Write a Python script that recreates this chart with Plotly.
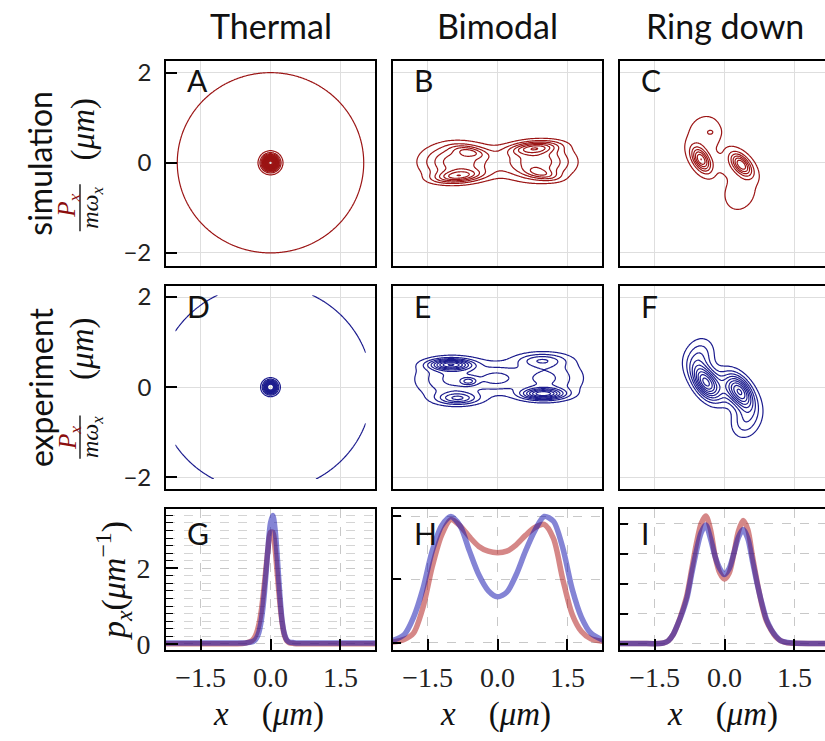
import numpy as np
import plotly.graph_objects as go

W, H = 825, 741

# ------------------------------------------------------------------ data
COLUMN_TITLES = ["Thermal", "Bimodal", "Ring down"]
ROW_NAMES = ["simulation", "experiment"]
PANEL_LETTERS = ["A", "B", "C", "D", "E", "F", "G", "H", "I"]

# Phase-space densities, each a sum of elliptical Gaussian components:
# (x0, y0, sigma_u, sigma_v, tilt_deg, weight)
THERMAL_SIM = [(0.0, 0.0, 0.10, 0.10, 0, 1.0),
               (0.0, 0.0, 1.20, 1.20, 0, 0.03)]
THERMAL_EXP = [(0.0, 0.0, 0.085, 0.085, 0, 1.0),
               (-0.12, -0.02, 1.20, 1.20, 0, 0.03)]
BIMODAL_SIM = [(-0.85, 0.02, 0.52, 0.28, 0, 0.50),
               (0.85, 0.02, 0.52, 0.28, 0, 0.50),
               (-0.85, -0.30, 0.35, 0.09, 5, 0.45),
               (0.80, 0.33, 0.35, 0.09, 5, 0.45),
               (-0.60, 0.25, 0.25, 0.08, -10, 0.25),
               (0.95, -0.25, 0.25, 0.08, -10, 0.25)]
BIMODAL_EXP = [(-0.95, 0.18, 0.52, 0.30, 0, 0.35),
               (1.02, 0.20, 0.52, 0.30, 0, 0.35),
               (-1.00, 0.50, 0.30, 0.08, 0, 0.80),
               (-0.85, -0.25, 0.30, 0.09, 0, 0.45),
               (-0.62, 0.13, 0.12, 0.06, 0, 0.30),
               (0.98, -0.15, 0.30, 0.08, 0, 0.80),
               (0.95, 0.60, 0.35, 0.10, 0, 0.30),
               (0.0, 0.20, 0.30, 0.20, 0, 0.25)]
RINGDOWN_SIM = [(-0.50, 0.07, 0.20, 0.11, -60, 1.0),
                (0.36, -0.04, 0.20, 0.11, -50, 1.0),
                (-0.42, 0.64, 0.24, 0.28, -20, 0.16),
                (-0.28, 0.68, 0.09, 0.07, 0, 0.10),
                (0.33, -0.65, 0.22, 0.28, -20, 0.16),
                (-0.05, -0.05, 0.25, 0.12, -45, 0.10)]
RINGDOWN_EXP = [(-0.41, 0.11, 0.28, 0.15, -60, 0.70),
                (0.34, -0.11, 0.28, 0.15, -60, 0.65),
                (-0.54, 0.70, 0.20, 0.26, -20, 0.24),
                (0.46, -0.74, 0.20, 0.26, -20, 0.24),
                (0.0, 0.0, 0.40, 0.22, -30, 0.25)]

# contour levels (start, end, step) for each phase-space panel
LEVELS = [(0.0075, 1.0, 0.05), (0.12, 1.2, 0.10), (0.06, 1.2, 0.16),
          (0.0048, 0.8, 0.07), (0.10, 1.2, 0.11), (0.08, 1.0, 0.09)]

# Position marginals p_x
G_X = [-2.3, -1.0, -0.6, -0.5, -0.4, -0.35, -0.3, -0.25, -0.2, -0.15, -0.1, -0.05,
       0.0, 0.05, 0.1, 0.15, 0.2, 0.25, 0.3, 0.35, 0.4, 0.5, 0.6, 1.0, 2.3]
G_SIM = [0.0, 0.0, 0.01, 0.03, 0.08, 0.15, 0.28, 0.50, 0.85, 1.35, 1.95, 2.55,
         2.95, 2.95, 2.50, 1.80, 1.10, 0.55, 0.22, 0.08, 0.03, 0.01, 0.0, 0.0, 0.0]
G_EXP = [0.02, 0.02, 0.02, 0.03, 0.05, 0.08, 0.15, 0.30, 0.60, 1.10, 1.80, 2.60,
         3.20, 3.40, 3.00, 2.20, 1.30, 0.60, 0.25, 0.10, 0.05, 0.03, 0.02, 0.02, 0.02]

H_X = [-2.3, -2.0, -1.8, -1.6, -1.4, -1.2, -1.0, -0.8, -0.6, -0.4, -0.2, 0.0,
       0.2, 0.4, 0.6, 0.8, 1.0, 1.2, 1.4, 1.6, 1.8, 2.0, 2.3]
H_SIM = [0.0, 0.01, 0.03, 0.11, 0.24, 0.34, 0.39, 0.37, 0.335, 0.305, 0.29, 0.285,
         0.29, 0.31, 0.34, 0.365, 0.375, 0.33, 0.20, 0.09, 0.035, 0.012, 0.003]
H_EXP = [0.003, 0.025, 0.08, 0.17, 0.29, 0.37, 0.40, 0.37, 0.29, 0.215, 0.165, 0.145,
         0.16, 0.215, 0.29, 0.355, 0.40, 0.385, 0.30, 0.17, 0.08, 0.03, 0.005]

I_X = [-2.3, -1.8, -1.4, -1.3, -1.2, -1.1, -1.0, -0.9, -0.8, -0.7, -0.6, -0.5, -0.4,
       -0.3, -0.2, -0.1, 0.0, 0.1, 0.2, 0.3, 0.4, 0.5, 0.6, 0.7, 0.8, 0.9, 1.0,
       1.1, 1.2, 1.3, 1.4, 1.8, 2.3]
I_SIM = [0.0, 0.0, 0.0, 0.005, 0.02, 0.06, 0.13, 0.22, 0.33, 0.50, 0.67, 0.80, 0.85,
         0.76, 0.58, 0.47, 0.43, 0.47, 0.60, 0.75, 0.82, 0.76, 0.58, 0.41, 0.26, 0.15,
         0.09, 0.045, 0.02, 0.008, 0.003, 0.0, 0.0]
I_EXP = [0.0, 0.0, 0.0, 0.005, 0.02, 0.06, 0.13, 0.21, 0.31, 0.47, 0.62, 0.74, 0.79,
         0.70, 0.58, 0.50, 0.46, 0.50, 0.60, 0.71, 0.76, 0.70, 0.55, 0.40, 0.27, 0.16,
         0.095, 0.05, 0.02, 0.01, 0.005, 0.0, 0.0]

X_TICKS = [-1.5, 0.0, 1.5]
PS_TICKS = [-2, 0, 2]

# ------------------------------------------------------------------ layout geometry (pixels)
COLS = [(166, 375), (393, 602), (620, 825)]
ROWS = [(57, 266), (287, 494), (514, 658)]
UNIT_PX = 46.65
X_RANGES = [[-2.24, 2.24], [-2.24, 2.24], [-2.24, -2.24 + 205 / UNIT_PX]]
PS_Y_RANGES = [[-2.28, 2.26], [-2.26, 2.24]]
PX_Y_RANGES = [[-0.156, 3.58], [-0.0227, 0.425], [-0.041, 0.90]]
PX_Y_TICKS = [[0, 2], [0, 0.2, 0.4], [0, 0.2, 0.4, 0.6, 0.8]]
# half-width of the sampled phase-space grid per panel
GRID_HALF = [2.8, 2.3, 2.3, 2.04, 2.3, 2.3]

# per-row placement of the "(um)", numerator, fraction bar and denominator
ROW_LABEL_POS = [dict(name=162, unit=127, num=205, bar=(183, 231), den=207),
                 dict(name=390, unit=351, num=442, bar=(419, 463), den=441)]

RED_LINE = "#9b1414"
BLUE_LINE = "#1c1c8e"
RED_FILL = "rgba(175,25,25,0.52)"
BLUE_FILL = "rgba(20,20,175,0.52)"

SANS = "Lato"
SERIF = "Liberation Serif"


def px(x):
    return x / W


def py(y):
    return 1 - y / H


def density(components, grid):
    gx, gy = np.meshgrid(grid, grid)
    z = np.zeros_like(gx)
    for x0, y0, su, sv, tilt, weight in components:
        t = np.deg2rad(tilt)
        dx, dy = gx - x0, gy - y0
        u = dx * np.cos(t) + dy * np.sin(t)
        v = -dx * np.sin(t) + dy * np.cos(t)
        z += weight * np.exp(-0.5 * ((u / su) ** 2 + (v / sv) ** 2))
    return z.astype(np.float32)


fig = go.Figure()

phase_panels = [THERMAL_SIM, BIMODAL_SIM, RINGDOWN_SIM,
                THERMAL_EXP, BIMODAL_EXP, RINGDOWN_EXP]
for k, comps in enumerate(phase_panels):
    r, c = divmod(k, 3)
    idx = k + 1
    half = GRID_HALF[k]
    grid = np.linspace(-half, half, int(round(2 * half / 0.02)) + 1)
    z = density(comps, grid)
    col = RED_LINE if r == 0 else BLUE_LINE
    s, e, step = LEVELS[k]
    fig.add_trace(go.Contour(
        x=grid.astype(np.float32), y=grid.astype(np.float32), z=z,
        autocontour=False,
        contours=dict(start=s, end=e, size=step, coloring="lines"),
        colorscale=[[0, col], [1, col]], showscale=False,
        line=dict(width=1.2, smoothing=1.0), hoverinfo="skip",
        xaxis="x" if idx == 1 else f"x{idx}", yaxis="y" if idx == 1 else f"y{idx}",
    ))

profiles = [(G_X, G_SIM, G_EXP), (H_X, H_SIM, H_EXP), (I_X, I_SIM, I_EXP)]
for c, (xs, sim, exp) in enumerate(profiles):
    idx = 7 + c
    for ys, colr in ((sim, RED_FILL), (exp, BLUE_FILL)):
        fig.add_trace(go.Scatter(
            x=xs, y=ys, mode="lines",
            line=dict(color=colr, width=5.5, shape="spline", smoothing=0.8),
            hoverinfo="skip", xaxis=f"x{idx}", yaxis=f"y{idx}",
        ))

layout = dict(width=W, height=H, margin=dict(l=0, r=0, t=0, b=0),
              paper_bgcolor="white", plot_bgcolor="white", showlegend=False)

frame = dict(showline=True, linecolor="black", linewidth=1.8, zeroline=False)

for r in range(3):
    for c in range(3):
        idx = r * 3 + c + 1
        xa = "xaxis" if idx == 1 else f"xaxis{idx}"
        ya = "yaxis" if idx == 1 else f"yaxis{idx}"
        xdom = [px(COLS[c][0]), px(COLS[c][1])]
        ydom = [py(ROWS[r][1]), py(ROWS[r][0])]
        xname = "x" if idx == 1 else f"x{idx}"
        yname = "y" if idx == 1 else f"y{idx}"
        x_ax = dict(frame, domain=xdom, range=X_RANGES[c], anchor=yname,
                    tickvals=X_TICKS, mirror=True, fixedrange=True)
        y_ax = dict(frame, domain=ydom, anchor=xname, mirror=(c != 2), fixedrange=True)
        if r < 2:
            x_ax.update(showticklabels=False, ticks="", showgrid=True,
                        gridcolor="#dedede", gridwidth=1)
            y_ax.update(range=PS_Y_RANGES[r], tickvals=PS_TICKS, showgrid=True,
                        gridcolor="#dedede", gridwidth=1)
            if c == 0:
                y_ax.update(ticks="inside", ticklen=11, tickwidth=1.5, tickcolor="black",
                            showticklabels=True, ticklabelstandoff=8,
                            tickfont=dict(family=SANS, size=24, color="#222"))
            else:
                y_ax.update(ticks="", showticklabels=False)
        else:
            x_ax.update(ticks="inside", ticklen=11, tickwidth=1.5, tickcolor="black",
                        showticklabels=True, tickformat=".1f", ticklabelstandoff=2,
                        tickfont=dict(family=SERIF, size=28, color="#222"),
                        showgrid=True, gridcolor="#c8c8c8", griddash="dash", gridwidth=1)
            y_ax.update(range=PX_Y_RANGES[c], tickvals=PX_Y_TICKS[c], ticks="inside",
                        tickwidth=1.5, tickcolor="black", showgrid=True,
                        gridcolor="#c8c8c8", griddash="dash", gridwidth=1)
            if c == 0:
                y_ax.update(ticklen=12, showticklabels=True, ticklabelstandoff=8,
                            tickfont=dict(family=SERIF, size=28, color="#222"),
                            minor=dict(dtick=0.2, tick0=0, ticks="inside", ticklen=7,
                                       tickwidth=1.2, tickcolor="black", showgrid=True,
                                       gridcolor="#d4d4d4", griddash="dash", gridwidth=1))
            else:
                y_ax.update(ticklen=8, showticklabels=False)
        layout[xa] = x_ax
        layout[ya] = y_ax

annotations = []
shapes = []


def note(text, x, y, size, family=SANS, color="#111", angle=0, xanchor="center"):
    annotations.append(dict(text=text, x=px(x), y=py(y), xref="paper", yref="paper",
                            showarrow=False, textangle=angle, xanchor=xanchor,
                            yanchor="middle", font=dict(family=family, size=size, color=color)))


# column titles
for c, title in enumerate(COLUMN_TITLES):
    centre = COLS[c][0] + 104.5
    note(title, centre, 21, 34)

# panel letters
for k, letter in enumerate(PANEL_LETTERS):
    r, c = divmod(k, 3)
    offset = 20 if r < 2 else 25
    note(letter, COLS[c][0] + 19, ROWS[r][0] + offset, 30, xanchor="left")

# row labels with the P_x / (m omega_x) (um) fraction
for r, name in enumerate(ROW_NAMES):
    pos = ROW_LABEL_POS[r]
    note(name, 40, pos["name"], 32, angle=-90)
    note("(<i>μm</i>)", 83, pos["unit"], 33, family=SERIF, angle=-90)
    note("<i>P<sub>x</sub></i>", 69, pos["num"], 25, family=SERIF, color="#8b0d0d", angle=-90)
    note("<i>mω<sub>x</sub></i>", 92, pos["den"], 24, family=SERIF, angle=-90)
    shapes.append(dict(type="line", xref="paper", yref="paper",
                       x0=px(80), x1=px(80), y0=py(pos["bar"][0]), y1=py(pos["bar"][1]),
                       line=dict(color="black", width=1.3)))

note("<i>p<sub>x</sub></i>(<i>μm</i><sup>−1</sup>)", 113, 588, 34, family=SERIF, angle=-90)

for c in range(3):
    centre = COLS[c][0] + 102
    note("<i>x</i>\u00a0\u00a0\u00a0\u00a0(<i>μm</i>)", centre, 724, 33, family=SERIF)

layout["annotations"] = annotations
layout["shapes"] = shapes
fig.update_layout(**layout)

fig.write_html("out.html")
